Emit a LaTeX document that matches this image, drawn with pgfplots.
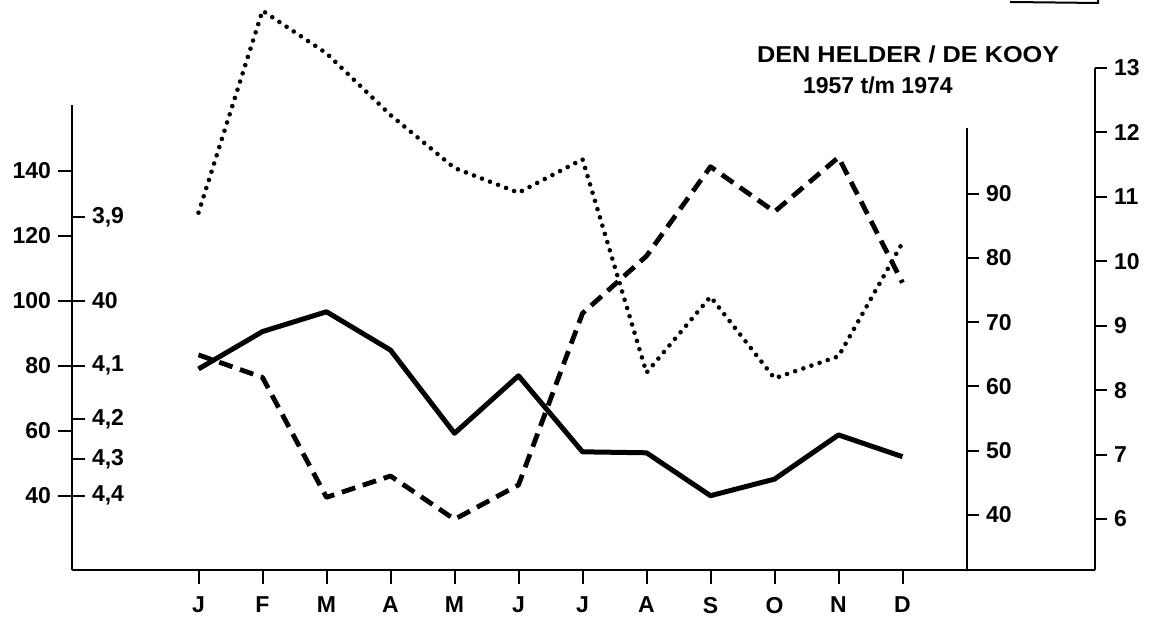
\documentclass[border=0pt]{standalone}
\usepackage{pgfplots}
\pgfplotsset{compat=1.18}
\usepackage{fontspec}
\setmainfont{Liberation Sans}
\begin{document}
\begin{tikzpicture}[x=1pt,y=1pt]
\path[use as bounding box] (0,0) rectangle (578.5,309.5);
\pgfplotsset{
  base/.style={scale only axis, anchor=south west, at={(36pt,24.5pt)}, clip=false,
    xmin=-0.9766, xmax=15.0078, width=511.5pt,
    axis line style={line width=1pt, black},
    major tick style={line width=1pt, black},
    tick align=outside,
    ticklabel style={font=\fontsize{11.5}{13}\selectfont\bfseries},
    /pgf/number format/assume math mode=true},
}
% left axis, solid series
\begin{axis}[base, height=232.5pt, ymin=17.14, ymax=160.22,
  axis y line*=left, axis x line*=bottom,
  xtick={1,...,12}, xticklabels={J,F,M,A,M,J,J,A,S,O,N,D},
  ytick={40,60,...,140}, major tick length=7pt,
  xticklabel style={yshift=-3pt, text depth=0pt}]
\addplot[line width=2.5pt, line join=round] coordinates {
 (1,79.0) (2,90.5) (3,96.6) (4,84.8) (5,59.2) (6,76.9) (7,53.5) (8,53.2) (9,40.0) (10,45.1) (11,58.7) (12,52.0)};
\end{axis}
% left inner scale
\begin{axis}[base, at={(26pt,24.5pt)}, width=10pt, height=232.5pt, ymin=17.14, ymax=160.22, xmin=0, xmax=1,
  axis y line*=right, axis x line=none, major tick length=6.5pt,
  ytick={125.75,100,80,63.6,51.3,40}, yticklabels={{3,9},{40},{4,1},{4,2},{4,3},{4,4}}]
\end{axis}
% inner right axis, dashed series
\begin{axis}[base, width=447.5pt, height=221pt, ymin=31.45, ymax=100.19, xmax=13.0078,
  axis y line*=right, axis x line=none, major tick length=6pt,
  ytick={40,50,...,90}]
\addplot[line width=2.4pt, dash pattern=on 7pt off 4pt, line join=round] coordinates {
 (1,64.9) (2,61.4) (3,42.75) (4,46.07) (5,39.33) (6,44.67) (7,71.37) (8,80.28) (9,94.17) (10,87.17) (11,95.63) (12,76.13)};
\end{axis}
% far right axis, dotted series
\begin{axis}[base, height=251pt, ymin=5.2085, ymax=13,
  axis y line*=right, axis x line=none, major tick length=6pt,
  ytick={6,...,13}]
\addplot[line width=2.3pt, line cap=round, dash pattern=on 0pt off 4.3pt] coordinates {
 (1,10.754) (2,13.889) (3,13.228) (4,12.27) (5,11.448) (6,11.064) (7,11.583) (8,8.271) (9,9.450) (10,8.184) (11,8.525) (12,10.288)};
\end{axis}
\node[anchor=west, font=\fontsize{11.5}{13}\selectfont\bfseries] at (375,282.5) {\scalebox{1.1}[1]{DEN HELDER / DE KOOY}};
\node[anchor=west, font=\fontsize{11.5}{13}\selectfont\bfseries] at (398,267) {1957 t/m 1974};
\draw[line width=1pt] (505,308.5) -- (549,308) -- (549,309.5);
\end{tikzpicture}
\end{document}
